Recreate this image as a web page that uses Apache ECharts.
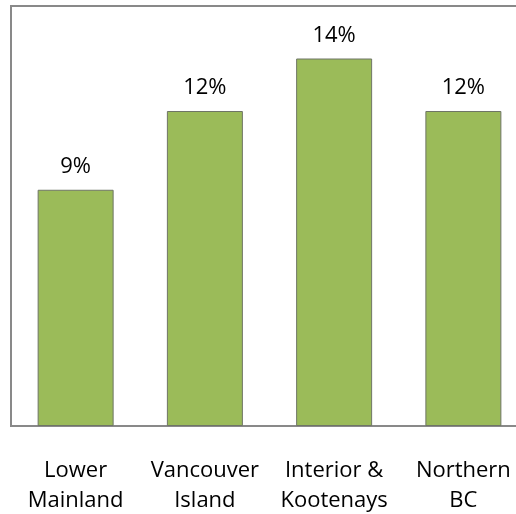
<!DOCTYPE html>
<html>
<head>
<meta charset="utf-8">
<script src="https://cdn.jsdelivr.net/npm/echarts@6/dist/echarts.min.js"></script>
<style>
html,body{margin:0;padding:0;background:#fff;}
#c{width:516px;height:514px;}
</style>
</head>
<body>
<div id="c"></div>
<script>
var categories = ['Lower\nMainland', 'Vancouver\nIsland', 'Interior &\nKootenays', 'Northern\nBC'];
var values = [9, 12, 14, 12];

var chart = echarts.init(document.getElementById('c'), null, {renderer: 'canvas'});
chart.setOption({
  animation: false,
  backgroundColor: '#ffffff',
  grid: {
    left: 11, top: 6, bottom: 88, width: 517,
    outerBoundsMode: 'none', containLabel: false,
    show: true, borderColor: '#898989', borderWidth: 2, backgroundColor: 'transparent'
  },
  xAxis: {
    type: 'category',
    data: categories,
    axisLine: {show: true, lineStyle: {color: '#898989', width: 2}},
    axisTick: {show: false},
    axisLabel: {
      color: '#000', fontFamily: 'Open Sans', fontSize: 22,
      lineHeight: 30, margin: 30, interval: 0
    }
  },
  yAxis: {
    type: 'value', min: 0, max: 16,
    axisLine: {show: false}, axisTick: {show: false},
    axisLabel: {show: false}, splitLine: {show: false}
  },
  series: [{
    type: 'bar',
    data: values,
    barWidth: 76,
    itemStyle: {color: '#9BBB59', borderColor: '#6F7566', borderWidth: 1},
    label: {
      show: true, position: 'top', distance: 12,
      formatter: '{c}%', color: '#000', fontFamily: 'Open Sans', fontSize: 22
    }
  }]
});
</script>
</body>
</html>
